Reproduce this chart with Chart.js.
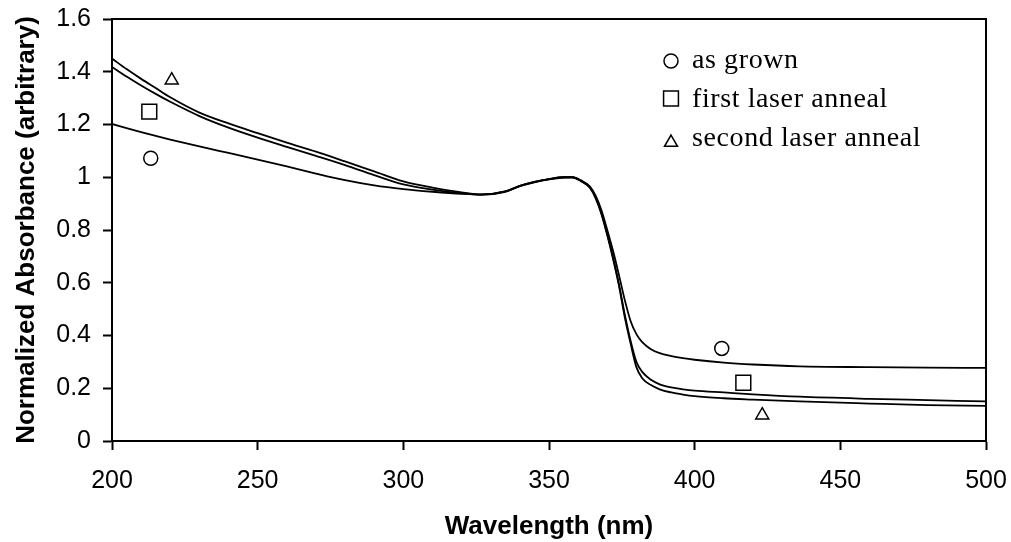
<!DOCTYPE html>
<html>
<head>
<meta charset="utf-8">
<title>Normalized Absorbance</title>
<script src="https://cdn.jsdelivr.net/npm/chart.js@4/dist/chart.umd.min.js"></script>
<style>
  html, body { margin: 0; padding: 0; background: #fff; }
  #wrap { width: 1011px; height: 542px; }
</style>
</head>
<body>
<div id="wrap"><canvas id="absChart" width="1011" height="542"></canvas></div>
<script>
// Absorbance spectra, normalized to the 357 nm exciton peak
const wavelengths = [200, 205, 210, 215, 220, 230, 240, 250, 260, 270, 280, 290, 300, 310, 320,
  327, 335, 340, 345, 350, 355, 358, 361, 364, 366, 368, 370, 372, 374, 376, 378, 380, 382,
  385, 388, 392, 396, 400, 410, 420, 436, 460, 480, 500];

const asGrown = [1.202, 1.186, 1.171, 1.157, 1.143, 1.117, 1.092, 1.067, 1.041, 1.014, 0.989, 0.969, 0.955, 0.945, 0.937,
  0.934, 0.945, 0.966, 0.981, 0.992, 0.999, 1.000, 0.988, 0.966, 0.930, 0.875, 0.800, 0.720, 0.630, 0.535, 0.455, 0.405, 0.375,
  0.348, 0.333, 0.322, 0.314, 0.308, 0.297, 0.290, 0.283, 0.280, 0.278, 0.277];

const firstAnneal = [1.418, 1.382, 1.348, 1.316, 1.286, 1.232, 1.188, 1.150, 1.115, 1.081, 1.046, 1.008, 0.973, 0.953, 0.939,
  0.934, 0.946, 0.967, 0.982, 0.993, 1.000, 1.000, 0.986, 0.962, 0.925, 0.865, 0.785, 0.695, 0.595, 0.480, 0.380, 0.300, 0.262,
  0.232, 0.215, 0.203, 0.196, 0.191, 0.184, 0.177, 0.168, 0.160, 0.155, 0.150];

const secondAnneal = [1.450, 1.410, 1.373, 1.338, 1.303, 1.245, 1.204, 1.167, 1.131, 1.097, 1.060, 1.022, 0.984, 0.961, 0.943,
  0.935, 0.946, 0.967, 0.982, 0.993, 1.000, 1.000, 0.985, 0.960, 0.920, 0.860, 0.780, 0.690, 0.590, 0.470, 0.370, 0.280, 0.238,
  0.212, 0.196, 0.184, 0.176, 0.170, 0.162, 0.157, 0.150, 0.142, 0.136, 0.133];

// series markers sitting next to each curve
const circleX = [213.3, 409.3];
const circleY = [1.072, 0.351];
const squareX = [212.8, 416.7];
const squareY = [1.249, 0.221];
const triangleX = [220.5, 423.2];
const triangleY = [1.368, 0.098];

const seriesNames = ['as grown', 'first laser anneal', 'second laser anneal'];
const xTicks = [200, 250, 300, 350, 400, 450, 500];
const yTicks = [0, 0.2, 0.4, 0.6, 0.8, 1, 1.2, 1.4, 1.6];

const toPoints = (xs, ys) => xs.map((x, i) => ({ x: x, y: ys[i] }));

function curve(values) {
  return {
    data: toPoints(wavelengths, values),
    showLine: true,
    borderColor: '#000',
    borderWidth: 1.8,
    pointRadius: 0,
    cubicInterpolationMode: 'monotone',
    fill: false
  };
}

function markers(label, xs, ys, style, radius) {
  return {
    label: label,
    data: toPoints(xs, ys),
    showLine: false,
    pointStyle: style,
    pointRadius: radius,
    pointBackgroundColor: '#fff',
    pointBorderColor: '#000',
    pointBorderWidth: 1.5,
    isMarker: true
  };
}

// top and right edges of the plot box
const framePlugin = {
  id: 'frame',
  beforeDatasetsDraw(chart) {
    const { ctx, chartArea: a } = chart;
    ctx.save();
    ctx.strokeStyle = '#000';
    ctx.lineWidth = 2;
    ctx.beginPath();
    ctx.moveTo(a.left, a.top);
    ctx.lineTo(a.right, a.top);
    ctx.lineTo(a.right, a.bottom);
    ctx.stroke();
    ctx.restore();
  }
};

// legend drawn inside the plot, top right
const legendPlugin = {
  id: 'inlineLegend',
  afterDraw(chart) {
    const ctx = chart.ctx;
    const rows = chart.data.datasets.filter(d => d.isMarker);
    const markerX = 671;
    const textX = 692;
    const baseY = [68, 107, 146];
    const markerOffset = [-7, -8.5, -3.5];
    ctx.save();
    rows.forEach((d, i) => {
      ctx.strokeStyle = '#000';
      ctx.fillStyle = '#fff';
      ctx.lineWidth = 1.5;
      Chart.helpers.drawPoint(ctx, {
        pointStyle: d.pointStyle,
        radius: d.pointRadius,
        rotation: 0,
        borderWidth: 1.5
      }, markerX, baseY[i] + markerOffset[i]);
      ctx.fillStyle = '#000';
      ctx.font = '28px "Liberation Serif", "Times New Roman", serif';
      ctx.letterSpacing = '0.6px';
      ctx.textAlign = 'left';
      ctx.textBaseline = 'alphabetic';
      ctx.fillText(d.label, textX, baseY[i]);
    });
    ctx.restore();
  }
};

Chart.defaults.font.family = '"Liberation Sans", Arial, sans-serif';
Chart.defaults.color = '#000';

new Chart(document.getElementById('absChart'), {
  type: 'scatter',
  data: {
    datasets: [
      curve(asGrown),
      curve(firstAnneal),
      curve(secondAnneal),
      markers(seriesNames[0], circleX, circleY, 'circle', 7),
      markers(seriesNames[1], squareX, squareY, 'rect', 10.5),
      markers(seriesNames[2], triangleX, triangleY, 'triangle', 7.5)
    ]
  },
  options: {
    responsive: false,
    animation: false,
    devicePixelRatio: 1,
    layout: { padding: { top: 19, right: 25, left: 0, bottom: 0 } },
    plugins: {
      legend: { display: false },
      tooltip: { enabled: false }
    },
    scales: {
      x: {
        type: 'linear',
        min: 200,
        max: 500,
        afterBuildTicks: s => { s.ticks = xTicks.map(v => ({ value: v })); },
        afterFit: s => {
          s.height = 101;
          s.paddingLeft = 0;
          s.paddingRight = 0;
        },
        border: { color: '#000', width: 2 },
        grid: { drawOnChartArea: false, drawTicks: true, tickLength: 9, tickColor: '#000', tickWidth: 2 },
        ticks: { padding: 16, font: { size: 25 }, maxRotation: 0 },
        title: {
          display: true,
          text: 'Wavelength (nm)',
          font: { size: 26, weight: 'bold' },
          padding: { top: 0, bottom: 0 }
        }
      },
      y: {
        type: 'linear',
        min: 0,
        max: 1.6,
        afterBuildTicks: s => { s.ticks = yTicks.map(v => ({ value: v })); },
        afterFit: s => {
          s.width = 112;
          s.paddingTop = 0;
          s.paddingBottom = 0;
        },
        border: { color: '#000', width: 2 },
        grid: { drawOnChartArea: false, drawTicks: true, tickLength: 9, tickColor: '#000', tickWidth: 2 },
        ticks: {
          padding: 12,
          font: { size: 25 },
          callback: v => String(Math.round(v * 10) / 10)
        },
        title: {
          display: true,
          text: 'Normalized Absorbance (arbitrary)',
          font: { size: 26, weight: 'bold' },
          padding: { top: 11, bottom: 0 }
        }
      }
    }
  },
  plugins: [framePlugin, legendPlugin]
});
</script>
</body>
</html>
